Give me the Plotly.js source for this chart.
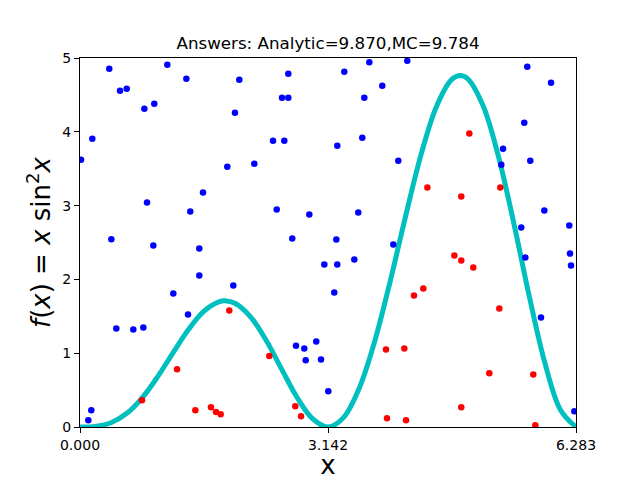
<!DOCTYPE html>
<html>
<head>
<meta charset="utf-8">
<script src="https://cdn.plot.ly/plotly-3.0.1.min.js"></script>
<style>html,body{margin:0;padding:0;background:#fff;}#chart{width:640px;height:480px;}</style>
</head>
<body>
<div id="chart"></div>
<script>
// Curve f(x) = x sin^2 x
const curveX = [0,0.1963,0.3927,0.5890,0.7854,0.9817,1.1781,1.3744,1.5708,1.7671,1.8366,1.9635,2.1598,2.3562,2.5525,2.7489,2.9452,3.1416,3.3379,3.5343,3.7306,3.9270,4.1233,4.3197,4.5160,4.7124,4.8160,4.9087,5.1051,5.3014,5.4978,5.6941,5.8905,6.0868,6.2832];
const curveY = [0,0.0075,0.0575,0.1818,0.3927,0.6787,1.0056,1.3221,1.5708,1.6999,1.7100,1.6759,1.4932,1.1781,0.7879,0.4026,0.1121,0,0.1270,0.5176,1.1515,1.9635,2.8506,3.6871,4.3442,4.7124,4.7630,4.7219,4.3575,3.6651,2.7489,1.7576,0.8627,0.2317,0];

// Monte Carlo points above the curve (blue)
const blueX = [0.371,1.106,0.507,0.592,1.347,2.018,0.815,0.941,1.963,0.156,0.013,1.866,1.558,0.849,1.397,0.397,2.639,3.348,3.665,4.146,3.829,2.559,2.639,3.601,2.445,2.588,3.259,3.576,2.208,4.032,2.492,2.905,3.525,2.689,3.247,5.666,5.967,5.628,5.359,5.704,5.337,5.882,5.590,6.198,0.929,1.511,1.511,1.942,1.182,1.368,0.460,0.675,0.802,0.143,0.105,3.969,3.095,3.259,3.475,3.221,2.736,2.841,2.993,2.859,3.053,3.145,5.641,6.207,6.220,5.840,6.262];
const blueY = [4.854,4.908,4.556,4.583,4.719,4.705,4.313,4.380,4.258,3.907,3.622,3.528,3.176,3.041,2.919,2.544,4.786,4.813,4.943,4.962,4.624,4.461,4.461,4.461,3.880,3.880,3.812,3.920,3.568,3.609,2.946,2.878,2.905,2.553,2.540,4.881,4.664,4.123,3.771,3.609,3.555,2.932,2.702,2.729,2.459,2.418,2.053,1.917,1.809,1.525,1.336,1.322,1.349,0.226,0.091,2.472,2.202,2.202,2.269,1.823,1.100,1.065,1.160,0.903,0.916,0.483,2.296,2.350,2.188,1.484,0.212];

// Monte Carlo points below the curve (red)
const redX = [4.932,4.400,4.830,5.324,1.891,1.229,0.785,1.461,1.659,1.723,1.782,4.231,2.398,3.876,4.108,2.727,2.800,3.889,4.130,4.742,4.830,4.982,4.349,5.312,5.185,5.742,4.830,5.768];
const redY = [3.978,3.244,3.122,3.244,1.579,0.781,0.361,0.226,0.267,0.203,0.172,1.782,0.961,1.051,1.065,0.280,0.145,0.118,0.091,2.323,2.256,2.161,1.877,1.606,0.727,0.713,0.267,0.023];

const xTickVals = [0, 3.14159265, 6.28318531];
const xTickText = ["0.000", "3.142", "6.283"];
const yTickVals = [0, 1, 2, 3, 4, 5];

const font = "DejaVu Sans";

const traces = [
  {x: curveX, y: curveY, mode: "lines", type: "scatter",
   line: {color: "#00BFBF", width: 5, shape: "spline", smoothing: 1}, hoverinfo: "skip"},
  {x: blueX, y: blueY, mode: "markers", type: "scatter",
   marker: {color: "#0000FF", size: 6.5}},
  {x: redX, y: redY, mode: "markers", type: "scatter",
   marker: {color: "#FF0000", size: 6.5}}
];

const layout = {
  width: 640, height: 480,
  margin: {l: 80, r: 64, t: 58, b: 53},
  paper_bgcolor: "#fff", plot_bgcolor: "#fff",
  showlegend: false,
  font: {family: font, color: "#000", size: 14},
  title: {text: "Answers: Analytic=9.870,MC=9.784", font: {family: font, size: 16.7, color: "#000"},
          x: 0.5, xanchor: "center", y: 1 - 43/480, yanchor: "middle", xref: "paper"},
  xaxis: {range: [0, 2*Math.PI], tickvals: xTickVals, ticktext: xTickText,
          showgrid: false, zeroline: false, showline: true, mirror: true,
          linecolor: "#000", linewidth: 1, ticks: "outside", ticklen: 5, tickcolor: "#000",
          tickfont: {family: font, size: 14},
          title: {text: "x", font: {family: font, size: 26}, standoff: 6}},
  yaxis: {range: [0, 5], tickvals: yTickVals,
          showgrid: false, zeroline: false, showline: true, mirror: true,
          linecolor: "#000", linewidth: 1, ticks: "outside", ticklen: 5, tickcolor: "#000",
          tickfont: {family: font, size: 14},
          title: {text: "<i>f</i>(<i>x</i>) = <i>x</i> sin<sup>2</sup><i>x</i>", font: {family: font, size: 26}, standoff: 4}}
};

Plotly.newPlot("chart", traces, layout, {staticPlot: true, displayModeBar: false});
</script>
</body>
</html>
